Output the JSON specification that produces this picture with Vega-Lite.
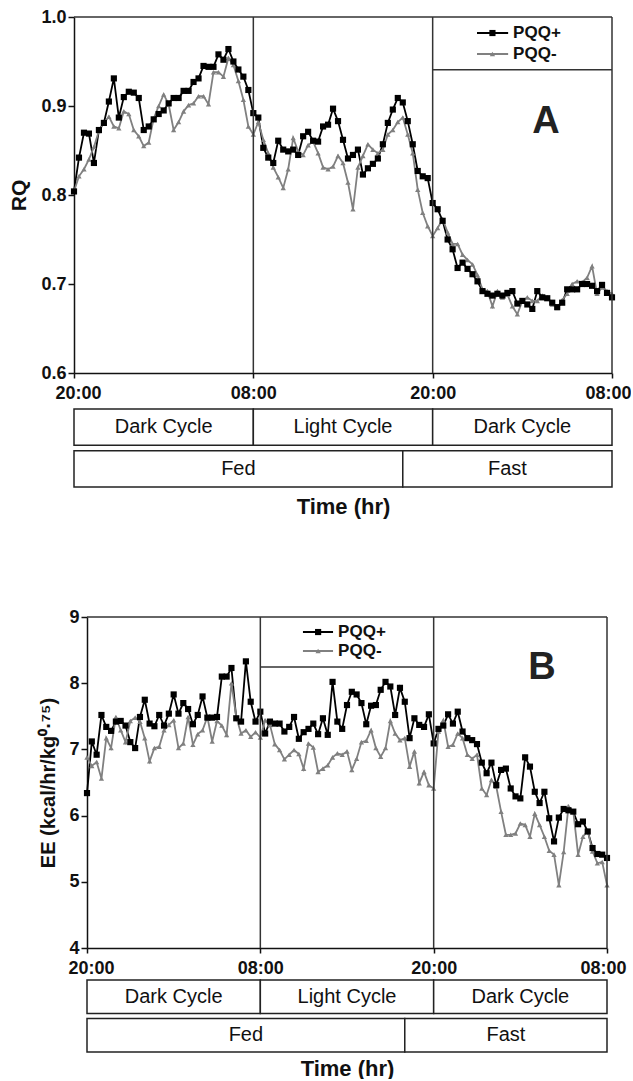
{
  "$schema": "https://vega.github.io/schema/vega-lite/v6.json",
  "background": "white",
  "padding": {"left": 8, "top": 8, "right": 0, "bottom": 0},
  "config": {
    "view": {"stroke": null},
    "font": "Liberation Sans",
    "axis": {"grid": false, "domainColor": "#111", "domainWidth": 1.5, "tickColor": "#111", "tickWidth": 1.5, "labelColor": "#111", "labelFont": "Liberation Sans", "labelFontWeight": "bold", "labelFontSize": 18, "titleColor": "#111", "titleFont": "Liberation Sans", "titleFontWeight": "bold"},
    "axisX": {"tickSize": 5, "labelPadding": 6, "titleFontSize": 22},
    "axisY": {"tickSize": 6, "labelPadding": 2}
  },
  "datasets": {
    "rq": [
      {"m":0,"PQQ+":0.804,"PQQ-":0.804},{"m":20,"PQQ+":0.842,"PQQ-":0.821},{"m":40,"PQQ+":0.870,"PQQ-":0.829},{"m":60,"PQQ+":0.869,"PQQ-":0.840},{"m":80,"PQQ+":0.836,"PQQ-":0.854},{"m":100,"PQQ+":0.873,"PQQ-":0.872},{"m":120,"PQQ+":0.881,"PQQ-":0.881},{"m":140,"PQQ+":0.905,"PQQ-":0.888},{"m":160,"PQQ+":0.931,"PQQ-":0.877},{"m":180,"PQQ+":0.887,"PQQ-":0.875},
      {"m":200,"PQQ+":0.910,"PQQ-":0.894},{"m":220,"PQQ+":0.916,"PQQ-":0.891},{"m":240,"PQQ+":0.915,"PQQ-":0.873},{"m":260,"PQQ+":0.909,"PQQ-":0.866},{"m":280,"PQQ+":0.873,"PQQ-":0.855},{"m":300,"PQQ+":0.877,"PQQ-":0.859},{"m":320,"PQQ+":0.885,"PQQ-":0.886},{"m":340,"PQQ+":0.891,"PQQ-":0.900},{"m":360,"PQQ+":0.895,"PQQ-":0.913},{"m":380,"PQQ+":0.903,"PQQ-":0.902},
      {"m":400,"PQQ+":0.909,"PQQ-":0.873},{"m":420,"PQQ+":0.909,"PQQ-":0.882},{"m":440,"PQQ+":0.917,"PQQ-":0.894},{"m":460,"PQQ+":0.917,"PQQ-":0.901},{"m":480,"PQQ+":0.927,"PQQ-":0.903},{"m":500,"PQQ+":0.931,"PQQ-":0.911},{"m":520,"PQQ+":0.945,"PQQ-":0.911},{"m":540,"PQQ+":0.944,"PQQ-":0.902},{"m":560,"PQQ+":0.944,"PQQ-":0.938},{"m":580,"PQQ+":0.958,"PQQ-":0.938},
      {"m":600,"PQQ+":0.952,"PQQ-":0.933},{"m":620,"PQQ+":0.964,"PQQ-":0.954},{"m":640,"PQQ+":0.950,"PQQ-":0.946},{"m":660,"PQQ+":0.941,"PQQ-":0.928},{"m":680,"PQQ+":0.933,"PQQ-":0.907},{"m":700,"PQQ+":0.918,"PQQ-":0.877},{"m":720,"PQQ+":0.892,"PQQ-":0.868},{"m":740,"PQQ+":0.887,"PQQ-":0.882},{"m":760,"PQQ+":0.853,"PQQ-":0.862},{"m":780,"PQQ+":0.842,"PQQ-":0.847},
      {"m":800,"PQQ+":0.836,"PQQ-":0.831},{"m":820,"PQQ+":0.861,"PQQ-":0.820},{"m":840,"PQQ+":0.851,"PQQ-":0.808},{"m":860,"PQQ+":0.849,"PQQ-":0.829},{"m":880,"PQQ+":0.851,"PQQ-":0.864},{"m":900,"PQQ+":0.845,"PQQ-":0.849},{"m":920,"PQQ+":0.866,"PQQ-":0.845},{"m":940,"PQQ+":0.871,"PQQ-":0.856},{"m":960,"PQQ+":0.861,"PQQ-":0.860},{"m":980,"PQQ+":0.860,"PQQ-":0.847},
      {"m":1000,"PQQ+":0.877,"PQQ-":0.831},{"m":1020,"PQQ+":0.879,"PQQ-":0.829},{"m":1040,"PQQ+":0.897,"PQQ-":0.832},{"m":1060,"PQQ+":0.883,"PQQ-":0.844},{"m":1080,"PQQ+":0.862,"PQQ-":0.836},{"m":1100,"PQQ+":0.841,"PQQ-":0.814},{"m":1120,"PQQ+":0.845,"PQQ-":0.784},{"m":1140,"PQQ+":0.851,"PQQ-":0.831},{"m":1160,"PQQ+":0.823,"PQQ-":0.844},{"m":1180,"PQQ+":0.830,"PQQ-":0.857},
      {"m":1200,"PQQ+":0.835,"PQQ-":0.851},{"m":1220,"PQQ+":0.841,"PQQ-":0.847},{"m":1240,"PQQ+":0.857,"PQQ-":0.851},{"m":1260,"PQQ+":0.881,"PQQ-":0.868},{"m":1280,"PQQ+":0.896,"PQQ-":0.873},{"m":1300,"PQQ+":0.909,"PQQ-":0.882},{"m":1320,"PQQ+":0.904,"PQQ-":0.887},{"m":1340,"PQQ+":0.883,"PQQ-":0.868},{"m":1360,"PQQ+":0.857,"PQQ-":0.847},{"m":1380,"PQQ+":0.827,"PQQ-":0.806},
      {"m":1400,"PQQ+":0.821,"PQQ-":0.780},{"m":1420,"PQQ+":0.819,"PQQ-":0.765},{"m":1440,"PQQ+":0.791,"PQQ-":0.754},{"m":1460,"PQQ+":0.784,"PQQ-":0.763},{"m":1480,"PQQ+":0.771,"PQQ-":0.773},{"m":1500,"PQQ+":0.750,"PQQ-":0.758},{"m":1520,"PQQ+":0.739,"PQQ-":0.745},{"m":1540,"PQQ+":0.718,"PQQ-":0.745},{"m":1560,"PQQ+":0.724,"PQQ-":0.733},{"m":1580,"PQQ+":0.717,"PQQ-":0.727},
      {"m":1600,"PQQ+":0.711,"PQQ-":0.722},{"m":1620,"PQQ+":0.703,"PQQ-":0.710},{"m":1640,"PQQ+":0.692,"PQQ-":0.694},{"m":1660,"PQQ+":0.689,"PQQ-":0.692},{"m":1680,"PQQ+":0.687,"PQQ-":0.675},{"m":1700,"PQQ+":0.689,"PQQ-":0.692},{"m":1720,"PQQ+":0.687,"PQQ-":0.685},{"m":1740,"PQQ+":0.690,"PQQ-":0.688},{"m":1760,"PQQ+":0.692,"PQQ-":0.675},{"m":1780,"PQQ+":0.678,"PQQ-":0.666},
      {"m":1800,"PQQ+":0.681,"PQQ-":0.681},{"m":1820,"PQQ+":0.677,"PQQ-":0.685},{"m":1840,"PQQ+":0.672,"PQQ-":0.681},{"m":1860,"PQQ+":0.692,"PQQ-":0.681},{"m":1880,"PQQ+":0.685,"PQQ-":0.687},{"m":1900,"PQQ+":0.684,"PQQ-":0.685},{"m":1920,"PQQ+":0.679,"PQQ-":0.677},{"m":1940,"PQQ+":0.674,"PQQ-":0.673},{"m":1960,"PQQ+":0.679,"PQQ-":0.682},{"m":1980,"PQQ+":0.694,"PQQ-":0.689},
      {"m":2000,"PQQ+":0.694,"PQQ-":0.700},{"m":2020,"PQQ+":0.694,"PQQ-":0.703},{"m":2040,"PQQ+":0.700,"PQQ-":0.702},{"m":2060,"PQQ+":0.700,"PQQ-":0.707},{"m":2080,"PQQ+":0.698,"PQQ-":0.720},{"m":2100,"PQQ+":0.692,"PQQ-":0.689},{"m":2120,"PQQ+":0.699,"PQQ-":0.696},{"m":2140,"PQQ+":0.690,"PQQ-":0.692},{"m":2160,"PQQ+":0.685,"PQQ-":0.689}
    ],
    "ee": [
      {"m":0,"PQQ+":6.34,"PQQ-":6.88},{"m":20,"PQQ+":7.12,"PQQ-":6.75},{"m":40,"PQQ+":6.92,"PQQ-":6.81},{"m":60,"PQQ+":7.52,"PQQ-":6.56},{"m":80,"PQQ+":7.34,"PQQ-":7.17},{"m":100,"PQQ+":7.28,"PQQ-":7.02},{"m":120,"PQQ+":7.42,"PQQ-":7.49},{"m":140,"PQQ+":7.43,"PQQ-":7.29},{"m":160,"PQQ+":7.36,"PQQ-":7.11},{"m":180,"PQQ+":7.11,"PQQ-":7.43},
      {"m":200,"PQQ+":7.02,"PQQ-":7.48},{"m":220,"PQQ+":7.49,"PQQ-":7.42},{"m":240,"PQQ+":7.75,"PQQ-":7.17},{"m":260,"PQQ+":7.39,"PQQ-":6.82},{"m":280,"PQQ+":7.35,"PQQ-":7.02},{"m":300,"PQQ+":7.52,"PQQ-":7.04},{"m":320,"PQQ+":7.36,"PQQ-":7.29},{"m":340,"PQQ+":7.54,"PQQ-":7.37},{"m":360,"PQQ+":7.83,"PQQ-":7.44},{"m":380,"PQQ+":7.54,"PQQ-":7.02},
      {"m":400,"PQQ+":7.70,"PQQ-":7.09},{"m":420,"PQQ+":7.61,"PQQ-":7.49},{"m":440,"PQQ+":7.38,"PQQ-":7.07},{"m":460,"PQQ+":7.52,"PQQ-":7.23},{"m":480,"PQQ+":7.80,"PQQ-":7.29},{"m":500,"PQQ+":7.48,"PQQ-":7.49},{"m":520,"PQQ+":7.48,"PQQ-":7.12},{"m":540,"PQQ+":7.49,"PQQ-":7.43},{"m":560,"PQQ+":8.10,"PQQ-":7.36},{"m":580,"PQQ+":8.10,"PQQ-":7.22},
      {"m":600,"PQQ+":8.23,"PQQ-":8.00},{"m":620,"PQQ+":7.47,"PQQ-":7.49},{"m":640,"PQQ+":7.42,"PQQ-":7.24},{"m":660,"PQQ+":8.33,"PQQ-":7.29},{"m":680,"PQQ+":7.72,"PQQ-":7.19},{"m":700,"PQQ+":7.42,"PQQ-":7.26},{"m":720,"PQQ+":7.57,"PQQ-":7.18},{"m":740,"PQQ+":7.24,"PQQ-":7.44},{"m":760,"PQQ+":7.42,"PQQ-":7.37},{"m":780,"PQQ+":7.39,"PQQ-":7.08},
      {"m":800,"PQQ+":7.39,"PQQ-":6.99},{"m":820,"PQQ+":7.27,"PQQ-":6.85},{"m":840,"PQQ+":7.34,"PQQ-":6.92},{"m":860,"PQQ+":7.49,"PQQ-":6.99},{"m":880,"PQQ+":7.16,"PQQ-":6.93},{"m":900,"PQQ+":7.26,"PQQ-":6.71},{"m":920,"PQQ+":7.31,"PQQ-":7.09},{"m":940,"PQQ+":7.39,"PQQ-":7.03},{"m":960,"PQQ+":7.23,"PQQ-":6.66},{"m":980,"PQQ+":7.47,"PQQ-":6.71},
      {"m":1000,"PQQ+":7.22,"PQQ-":6.76},{"m":1020,"PQQ+":8.02,"PQQ-":6.88},{"m":1040,"PQQ+":7.42,"PQQ-":6.94},{"m":1060,"PQQ+":7.31,"PQQ-":6.92},{"m":1080,"PQQ+":7.67,"PQQ-":6.97},{"m":1100,"PQQ+":7.87,"PQQ-":6.69},{"m":1120,"PQQ+":7.83,"PQQ-":6.86},{"m":1140,"PQQ+":7.70,"PQQ-":7.11},{"m":1160,"PQQ+":7.38,"PQQ-":7.13},{"m":1180,"PQQ+":7.66,"PQQ-":7.29},
      {"m":1200,"PQQ+":7.67,"PQQ-":7.02},{"m":1220,"PQQ+":7.90,"PQQ-":6.89},{"m":1240,"PQQ+":8.02,"PQQ-":7.02},{"m":1260,"PQQ+":7.95,"PQQ-":7.43},{"m":1280,"PQQ+":7.52,"PQQ-":7.24},{"m":1300,"PQQ+":7.93,"PQQ-":7.14},{"m":1320,"PQQ+":7.72,"PQQ-":7.17},{"m":1340,"PQQ+":7.17,"PQQ-":6.74},{"m":1360,"PQQ+":7.47,"PQQ-":6.97},{"m":1380,"PQQ+":7.37,"PQQ-":6.49},
      {"m":1400,"PQQ+":7.34,"PQQ-":6.66},{"m":1420,"PQQ+":7.53,"PQQ-":6.46},{"m":1440,"PQQ+":7.09,"PQQ-":6.41},{"m":1460,"PQQ+":7.31,"PQQ-":7.27},{"m":1480,"PQQ+":7.36,"PQQ-":7.44},{"m":1500,"PQQ+":7.53,"PQQ-":7.04},{"m":1520,"PQQ+":7.39,"PQQ-":7.07},{"m":1540,"PQQ+":7.57,"PQQ-":7.24},{"m":1560,"PQQ+":7.27,"PQQ-":7.17},{"m":1580,"PQQ+":7.17,"PQQ-":6.92},
      {"m":1600,"PQQ+":7.14,"PQQ-":6.86},{"m":1620,"PQQ+":7.08,"PQQ-":6.92},{"m":1640,"PQQ+":6.80,"PQQ-":6.41},{"m":1660,"PQQ+":6.64,"PQQ-":6.31},{"m":1680,"PQQ+":6.80,"PQQ-":6.54},{"m":1700,"PQQ+":6.46,"PQQ-":6.44},{"m":1720,"PQQ+":6.69,"PQQ-":6.06},{"m":1740,"PQQ+":6.71,"PQQ-":5.71},{"m":1760,"PQQ+":6.41,"PQQ-":5.71},{"m":1780,"PQQ+":6.29,"PQQ-":5.73},
      {"m":1800,"PQQ+":6.26,"PQQ-":5.88},{"m":1820,"PQQ+":6.88,"PQQ-":5.86},{"m":1840,"PQQ+":6.74,"PQQ-":5.68},{"m":1860,"PQQ+":6.36,"PQQ-":6.03},{"m":1880,"PQQ+":6.19,"PQQ-":5.86},{"m":1900,"PQQ+":6.36,"PQQ-":5.68},{"m":1920,"PQQ+":5.96,"PQQ-":5.47},{"m":1940,"PQQ+":5.61,"PQQ-":5.41},{"m":1960,"PQQ+":5.97,"PQQ-":4.95},{"m":1980,"PQQ+":6.10,"PQQ-":5.45},
      {"m":2000,"PQQ+":6.08,"PQQ-":6.14},{"m":2020,"PQQ+":6.06,"PQQ-":6.06},{"m":2040,"PQQ+":5.87,"PQQ-":5.41},{"m":2060,"PQQ+":5.91,"PQQ-":5.68},{"m":2080,"PQQ+":5.76,"PQQ-":5.77},{"m":2100,"PQQ+":5.51,"PQQ-":5.46},{"m":2120,"PQQ+":5.42,"PQQ-":5.28},{"m":2140,"PQQ+":5.41,"PQQ-":5.30},{"m":2160,"PQQ+":5.36,"PQQ-":4.95}
    ],
    "phases": [
      {"row":"cycle","label":"Dark Cycle","start":0,"end":720},
      {"row":"cycle","label":"Light Cycle","start":720,"end":1440},
      {"row":"cycle","label":"Dark Cycle","start":1440,"end":2160},
      {"row":"feeding","label":"Fed","start":0,"end":1320},
      {"row":"feeding","label":"Fast","start":1320,"end":2160}
    ]
  },
  "resolve": {"scale": {"color": "independent"}, "legend": {"color": "independent"}},
  "spacing": 91,
  "vconcat": [
    {
      "width": 538,
      "height": 356,
      "resolve": {"scale": {"y": "independent"}},
      "layer": [
        {
          "layer": [
            {
              "data": {"name": "rq"},
              "transform": [{"fold": ["PQQ+", "PQQ-"], "as": ["group", "value"]}],
              "mark": {"type": "line", "strokeWidth": 1.8},
              "encoding": {
                "x": {"field": "m", "type": "quantitative", "scale": {"domain": [0, 2160], "nice": false, "zero": false},
                      "axis": {"values": [0, 720, 1440, 2160], "labelExpr": "datum.value % 1440 == 0 ? '20:00' : '08:00'", "labelFlush": true, "labelFlushOffset": 19, "title": "Time (hr)", "titlePadding": 94}},
                "y": {"field": "value", "type": "quantitative", "scale": {"domain": [0.6, 1.0], "nice": false, "zero": false},
                      "axis": {"values": [0.6, 0.7, 0.8, 0.9, 1.0], "format": ".1f", "title": "RQ", "titleFontSize": 21, "titlePadding": 11}},
                "color": {"field": "group", "type": "nominal", "scale": {"domain": ["PQQ+", "PQQ-"], "range": ["#000000", "#808080"]}, "legend": null}
              }
            },
            {
              "data": {"name": "rq"},
              "transform": [{"fold": ["PQQ+", "PQQ-"], "as": ["group", "value"]}, {"filter": "datum.group === 'PQQ-'"}],
              "mark": {"type": "point", "filled": true, "size": 28, "opacity": 1, "shape": "triangle-up", "color": "#808080"},
              "encoding": {"x": {"field": "m", "type": "quantitative"}, "y": {"field": "value", "type": "quantitative"}}
            },
            {
              "data": {"name": "rq"},
              "transform": [{"fold": ["PQQ+", "PQQ-"], "as": ["group", "value"]}, {"filter": "datum.group === 'PQQ+'"}],
              "mark": {"type": "point", "filled": true, "size": 38, "opacity": 1, "shape": "square", "color": "#000000"},
              "encoding": {"x": {"field": "m", "type": "quantitative"}, "y": {"field": "value", "type": "quantitative"}}
            },
            {
              "data": {"name": "phases"},
              "transform": [{"filter": "datum.row === 'cycle' && datum.start > 0"}],
              "mark": {"type": "rule", "stroke": "#333", "strokeWidth": 1.5},
              "encoding": {"x": {"field": "start", "type": "quantitative"}}
            },
            {
              "data": {"values": [{}]},
              "mark": {"type": "rule", "stroke": "#333", "strokeWidth": 1.5},
              "encoding": {"x": {"datum": 0, "type": "quantitative"}, "x2": {"datum": 2160}, "y": {"datum": 1.0, "type": "quantitative"}}
            },
            {
              "data": {"values": [{}]},
              "mark": {"type": "rule", "stroke": "#333", "strokeWidth": 1.5},
              "encoding": {"x": {"datum": 2160, "type": "quantitative"}, "y": {"datum": 0.6, "type": "quantitative"}, "y2": {"datum": 1.0}}
            },
            {
              "data": {"values": [{}]},
              "mark": {"type": "rule", "stroke": "#333", "strokeWidth": 1.5},
              "encoding": {"x": {"datum": 1440, "type": "quantitative"}, "x2": {"datum": 2160}, "y": {"datum": 0.9406, "type": "quantitative"}}
            },
            {
              "data": {"values": [{}]},
              "mark": {"type": "rule", "stroke": "#000000", "strokeWidth": 2},
              "encoding": {"x": {"datum": 1618, "type": "quantitative"}, "x2": {"datum": 1743}, "y": {"datum": 0.982, "type": "quantitative"}}
            },
            {
              "data": {"values": [{}]},
              "mark": {"type": "point", "filled": true, "size": 38, "opacity": 1, "shape": "square", "color": "#000000"},
              "encoding": {"x": {"datum": 1680, "type": "quantitative"}, "y": {"datum": 0.982, "type": "quantitative"}}
            },
            {
              "data": {"values": [{}]},
              "mark": {"type": "text", "text": "PQQ+", "fontSize": 17, "fontWeight": "bold", "fill": "#111", "baseline": "middle", "align": "left"},
              "encoding": {"x": {"datum": 1763, "type": "quantitative"}, "y": {"datum": 0.982, "type": "quantitative"}}
            },
            {
              "data": {"values": [{}]},
              "mark": {"type": "rule", "stroke": "#808080", "strokeWidth": 2},
              "encoding": {"x": {"datum": 1618, "type": "quantitative"}, "x2": {"datum": 1743}, "y": {"datum": 0.9584, "type": "quantitative"}}
            },
            {
              "data": {"values": [{}]},
              "mark": {"type": "point", "filled": true, "size": 28, "opacity": 1, "shape": "triangle-up", "color": "#808080"},
              "encoding": {"x": {"datum": 1680, "type": "quantitative"}, "y": {"datum": 0.9584, "type": "quantitative"}}
            },
            {
              "data": {"values": [{}]},
              "mark": {"type": "text", "text": "PQQ-", "fontSize": 17, "fontWeight": "bold", "fill": "#111", "baseline": "middle", "align": "left"},
              "encoding": {"x": {"datum": 1763, "type": "quantitative"}, "y": {"datum": 0.9584, "type": "quantitative"}}
            },
            {
              "data": {"values": [{}]},
              "mark": {"type": "text", "text": "A", "fontSize": 38, "fontWeight": "bold", "fill": "#222", "baseline": "middle", "align": "center"},
              "encoding": {"x": {"datum": 1895, "type": "quantitative"}, "y": {"datum": 0.882, "type": "quantitative"}}
            }
          ]
        },
        {
          "data": {"name": "phases"},
          "encoding": {"y": {"field": "row", "type": "nominal", "scale": {"domain": ["cycle", "feeding"], "range": [392, 470], "paddingInner": 0.13, "paddingOuter": 0}, "axis": null}},
          "layer": [
            {
              "mark": {"type": "rect", "fill": "white", "stroke": "#222", "strokeWidth": 1.5},
              "encoding": {"x": {"field": "start", "type": "quantitative"}, "x2": {"field": "end"}}
            },
            {
              "transform": [{"fold": ["start", "end"], "as": ["bound", "t"]}, {"aggregate": [{"op": "mean", "field": "t", "as": "mid"}], "groupby": ["row", "label", "start"]}],
              "mark": {"type": "text", "fontSize": 20, "fill": "#111", "baseline": "middle", "align": "center"},
              "encoding": {"x": {"field": "mid", "type": "quantitative"}, "text": {"field": "label"}}
            }
          ]
        }
      ]
    },
    {
      "width": 533,
      "height": 331,
      "resolve": {"scale": {"y": "independent"}},
      "layer": [
        {
          "layer": [
            {
              "data": {"name": "ee"},
              "transform": [{"fold": ["PQQ+", "PQQ-"], "as": ["group", "value"]}],
              "mark": {"type": "line", "strokeWidth": 1.8},
              "encoding": {
                "x": {"field": "m", "type": "quantitative", "scale": {"domain": [0, 2160], "nice": false, "zero": false, "range": [13, 533]},
                      "axis": {"values": [0, 720, 1440, 2160], "labelExpr": "datum.value % 1440 == 0 ? '20:00' : '08:00'", "labelFlush": true, "labelFlushOffset": 19, "title": "Time (hr)", "titlePadding": 81}},
                "y": {"field": "value", "type": "quantitative", "scale": {"domain": [4, 9], "nice": false, "zero": false},
                      "axis": {"values": [4, 5, 6, 7, 8, 9], "format": "d", "title": "EE (kcal/hr/kg⁰·⁷⁵)", "titleFontSize": 20, "titlePadding": 10, "offset": -13}},
                "color": {"field": "group", "type": "nominal", "scale": {"domain": ["PQQ+", "PQQ-"], "range": ["#000000", "#808080"]}, "legend": null}
              }
            },
            {
              "data": {"name": "ee"},
              "transform": [{"fold": ["PQQ+", "PQQ-"], "as": ["group", "value"]}, {"filter": "datum.group === 'PQQ-'"}],
              "mark": {"type": "point", "filled": true, "size": 28, "opacity": 1, "shape": "triangle-up", "color": "#808080"},
              "encoding": {"x": {"field": "m", "type": "quantitative"}, "y": {"field": "value", "type": "quantitative"}}
            },
            {
              "data": {"name": "ee"},
              "transform": [{"fold": ["PQQ+", "PQQ-"], "as": ["group", "value"]}, {"filter": "datum.group === 'PQQ+'"}],
              "mark": {"type": "point", "filled": true, "size": 38, "opacity": 1, "shape": "square", "color": "#000000"},
              "encoding": {"x": {"field": "m", "type": "quantitative"}, "y": {"field": "value", "type": "quantitative"}}
            },
            {
              "data": {"name": "phases"},
              "transform": [{"filter": "datum.row === 'cycle' && datum.start > 0"}],
              "mark": {"type": "rule", "stroke": "#333", "strokeWidth": 1.5},
              "encoding": {"x": {"field": "start", "type": "quantitative"}}
            },
            {
              "data": {"values": [{}]},
              "mark": {"type": "rule", "stroke": "#333", "strokeWidth": 1.5},
              "encoding": {"x": {"datum": 0, "type": "quantitative"}, "x2": {"datum": 2160}, "y": {"datum": 9, "type": "quantitative"}}
            },
            {
              "data": {"values": [{}]},
              "mark": {"type": "rule", "stroke": "#333", "strokeWidth": 1.5},
              "encoding": {"x": {"datum": 2160, "type": "quantitative"}, "y": {"datum": 4, "type": "quantitative"}, "y2": {"datum": 9}}
            },
            {
              "data": {"values": [{}]},
              "mark": {"type": "rule", "stroke": "#333", "strokeWidth": 1.5},
              "encoding": {"x": {"datum": 720, "type": "quantitative"}, "x2": {"datum": 1440}, "y": {"datum": 8.245, "type": "quantitative"}}
            },
            {
              "data": {"values": [{}]},
              "mark": {"type": "rule", "stroke": "#000000", "strokeWidth": 2},
              "encoding": {"x": {"datum": 897, "type": "quantitative"}, "x2": {"datum": 1022}, "y": {"datum": 8.773, "type": "quantitative"}}
            },
            {
              "data": {"values": [{}]},
              "mark": {"type": "point", "filled": true, "size": 38, "opacity": 1, "shape": "square", "color": "#000000"},
              "encoding": {"x": {"datum": 960, "type": "quantitative"}, "y": {"datum": 8.773, "type": "quantitative"}}
            },
            {
              "data": {"values": [{}]},
              "mark": {"type": "text", "text": "PQQ+", "fontSize": 17, "fontWeight": "bold", "fill": "#111", "baseline": "middle", "align": "left"},
              "encoding": {"x": {"datum": 1043, "type": "quantitative"}, "y": {"datum": 8.773, "type": "quantitative"}}
            },
            {
              "data": {"values": [{}]},
              "mark": {"type": "rule", "stroke": "#808080", "strokeWidth": 2},
              "encoding": {"x": {"datum": 897, "type": "quantitative"}, "x2": {"datum": 1022}, "y": {"datum": 8.486, "type": "quantitative"}}
            },
            {
              "data": {"values": [{}]},
              "mark": {"type": "point", "filled": true, "size": 28, "opacity": 1, "shape": "triangle-up", "color": "#808080"},
              "encoding": {"x": {"datum": 960, "type": "quantitative"}, "y": {"datum": 8.486, "type": "quantitative"}}
            },
            {
              "data": {"values": [{}]},
              "mark": {"type": "text", "text": "PQQ-", "fontSize": 17, "fontWeight": "bold", "fill": "#111", "baseline": "middle", "align": "left"},
              "encoding": {"x": {"datum": 1043, "type": "quantitative"}, "y": {"datum": 8.486, "type": "quantitative"}}
            },
            {
              "data": {"values": [{}]},
              "mark": {"type": "text", "text": "B", "fontSize": 38, "fontWeight": "bold", "fill": "#222", "baseline": "middle", "align": "center"},
              "encoding": {"x": {"datum": 1890, "type": "quantitative"}, "y": {"datum": 8.23, "type": "quantitative"}}
            }
          ]
        },
        {
          "data": {"name": "phases"},
          "encoding": {"y": {"field": "row", "type": "nominal", "scale": {"domain": ["cycle", "feeding"], "range": [363, 435], "paddingInner": 0.13, "paddingOuter": 0}, "axis": null}},
          "layer": [
            {
              "mark": {"type": "rect", "fill": "white", "stroke": "#222", "strokeWidth": 1.5},
              "encoding": {"x": {"field": "start", "type": "quantitative"}, "x2": {"field": "end"}}
            },
            {
              "transform": [{"fold": ["start", "end"], "as": ["bound", "t"]}, {"aggregate": [{"op": "mean", "field": "t", "as": "mid"}], "groupby": ["row", "label", "start"]}],
              "mark": {"type": "text", "fontSize": 20, "fill": "#111", "baseline": "middle", "align": "center"},
              "encoding": {"x": {"field": "mid", "type": "quantitative"}, "text": {"field": "label"}}
            }
          ]
        }
      ]
    }
  ]
}
